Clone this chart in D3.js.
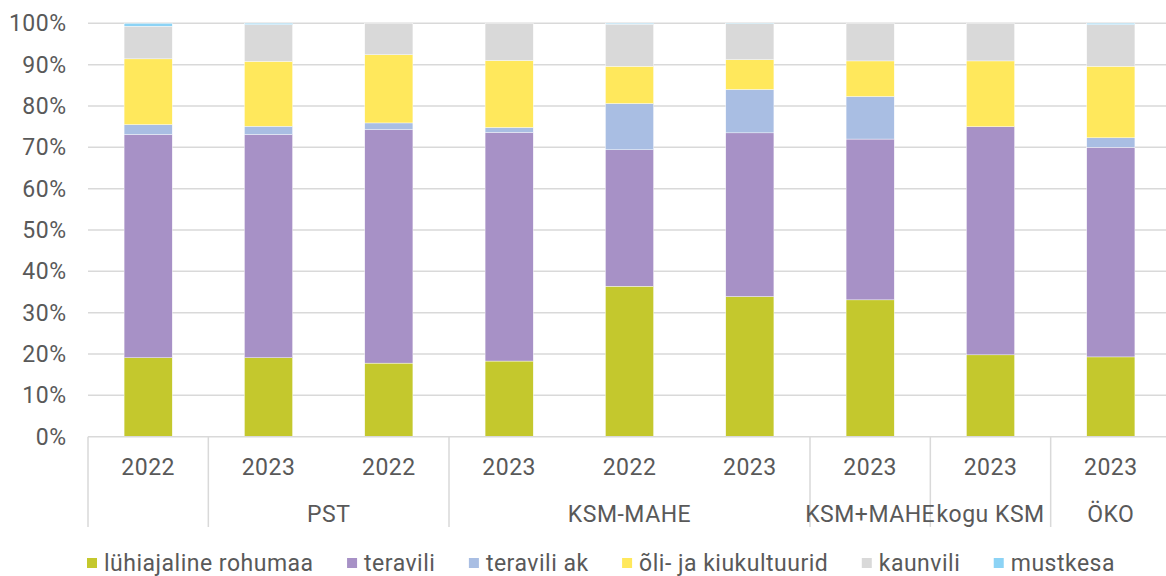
<!DOCTYPE html>
<html>
<head>
<meta charset="utf-8">
<script src="https://cdn.jsdelivr.net/npm/d3@7"></script>
<style>
  html, body { margin: 0; padding: 0; background: #fff; }
  svg { display: block; }
  text { font-family: Roboto, "Open Sans", sans-serif; fill: #595959; letter-spacing: 0.5px; }
</style>
</head>
<body>
<svg id="chart" width="1166" height="576"></svg>
<script>
// ---- data ----
const years = ["2022", "2023", "2022", "2023", "2022", "2023", "2023", "2023", "2023"];
const groupLabels = ["", "PST", "KSM-MAHE", "KSM+MAHE", "kogu KSM", "ÖKO"];
const groupSizes = [1, 2, 3, 1, 1, 1];
const seriesNames = ["lühiajaline rohumaa", "teravili", "teravili ak", "õli- ja kiukultuurid", "kaunvili", "mustkesa"];
const rohumaa  = [19.1, 19.1, 17.8, 18.3, 36.4, 33.9, 33.1, 19.8, 19.3];
const teravili = [54.0, 54.0, 56.5, 55.3, 33.0, 39.6, 38.9, 55.2, 50.7];
const teraviliAk = [2.4, 2.0, 1.6, 1.2, 11.2, 10.5, 10.3, 0.0, 2.3];
const oliKiu   = [15.9, 15.7, 16.5, 16.2, 9.0, 7.2, 8.6, 15.9, 17.3];
const kaunvili = [7.9, 8.9, 7.6, 9.0, 10.2, 8.7, 9.1, 9.1, 10.1];
const mustkesa = [0.7, 0.3, 0.0, 0.0, 0.2, 0.1, 0.0, 0.0, 0.3];
const yTicks = [0, 10, 20, 30, 40, 50, 60, 70, 80, 90, 100];
const colors = ["#C4C82D", "#A791C6", "#A9BEE3", "#FFE85C", "#D9D9D9", "#8CD3F5"];

// ---- layout ----
const svg = d3.select("#chart");
const mLeft = 88, mRight = 1171, mTop = 23.3, mBottom = 436.7;
const FS = "23px";
const seriesValues = [rohumaa, teravili, teraviliAk, oliKiu, kaunvili, mustkesa];
const rows = years.map((yr, i) => {
  const r = { idx: i };
  seriesNames.forEach((s, k) => r[s] = seriesValues[k][i]);
  return r;
});

const x = d3.scaleBand().domain(d3.range(years.length)).range([mLeft, mRight]).paddingInner(0).paddingOuter(0);
const y = d3.scaleLinear().domain([0, 100]).range([mBottom, mTop]);
const color = d3.scaleOrdinal().domain(seriesNames).range(colors);

// gridlines
svg.append("g").selectAll("line").data(yTicks.filter(t => t > 0)).join("line")
  .attr("x1", mLeft).attr("x2", mRight)
  .attr("y1", d => y(d)).attr("y2", d => y(d))
  .attr("stroke", "#D9D9D9").attr("stroke-width", 1.5);

// y axis labels
const yAxis = d3.axisLeft(y).tickValues(yTicks).tickFormat(d => d + "%").tickSize(0).tickPadding(21.5);
const yg = svg.append("g").attr("transform", `translate(${mLeft},0)`).call(yAxis);
yg.select(".domain").remove();
yg.selectAll("text").style("font-size", FS).attr("fill", "#595959").style("font-family", "Roboto");

// bars
const stack = d3.stack().keys(seriesNames);
const stacked = stack(rows);
const barW = x.bandwidth() * 0.4;
svg.append("g").selectAll("g").data(stacked).join("g")
  .attr("fill", d => color(d.key))
  .selectAll("rect").data(d => d).join("rect")
  .attr("x", d => x(d.data.idx) + (x.bandwidth() - barW) / 2)
  .attr("width", barW)
  .attr("y", d => y(d[1]))
  .attr("height", d => Math.max(0, y(d[0]) - y(d[1])))
  .attr("stroke", "#fff").attr("stroke-width", 0.4);

// x axis baseline
svg.append("line").attr("x1", mLeft).attr("x2", mRight).attr("y1", mBottom).attr("y2", mBottom)
  .attr("stroke", "#D9D9D9").attr("stroke-width", 1.5);

// year labels
const xAxis = d3.axisBottom(x).tickFormat(i => years[i]).tickSize(0).tickPadding(22);
const xg = svg.append("g").attr("transform", `translate(0,${mBottom})`).call(xAxis);
xg.select(".domain").remove();
xg.selectAll("text").style("font-size", FS).attr("fill", "#595959").style("font-family", "Roboto");

// group separators and labels
let start = 0;
const bounds = [];
groupSizes.forEach((n, g) => {
  const x0 = x(start), x1 = x(start + n - 1) + x.bandwidth();
  bounds.push({ x0, x1, label: groupLabels[g] });
  start += n;
});
const sepX = [bounds[0].x0].concat(bounds.map(b => b.x1));
svg.append("g").selectAll("line").data(sepX).join("line")
  .attr("x1", d => d).attr("x2", d => d)
  .attr("y1", mBottom).attr("y2", 527)
  .attr("stroke", "#D9D9D9").attr("stroke-width", 1.5);
svg.append("g").selectAll("text").data(bounds).join("text")
  .attr("x", d => (d.x0 + d.x1) / 2).attr("y", 522)
  .attr("text-anchor", "middle").style("font-size", FS)
  .text(d => d.label);

// legend
const lg = svg.append("g");
const items = lg.selectAll("g").data(seriesNames).join("g");
items.append("rect").attr("width", 10).attr("height", 10).attr("y", -13).attr("fill", d => color(d));
items.append("text").attr("x", 17).attr("y", 0).style("font-size", FS).text(d => d);
let textSum = 0;
items.each(function () { textSum += 17 + d3.select(this).select("text").node().getComputedTextLength(); });
const gap = (1115 - 87 - textSum) / (seriesNames.length - 1);
let cx = 0;
items.each(function () {
  const w = 17 + d3.select(this).select("text").node().getComputedTextLength();
  d3.select(this).attr("transform", `translate(${cx},0)`);
  cx += w + gap;
});
lg.attr("transform", `translate(87,571)`);
</script>
</body>
</html>
